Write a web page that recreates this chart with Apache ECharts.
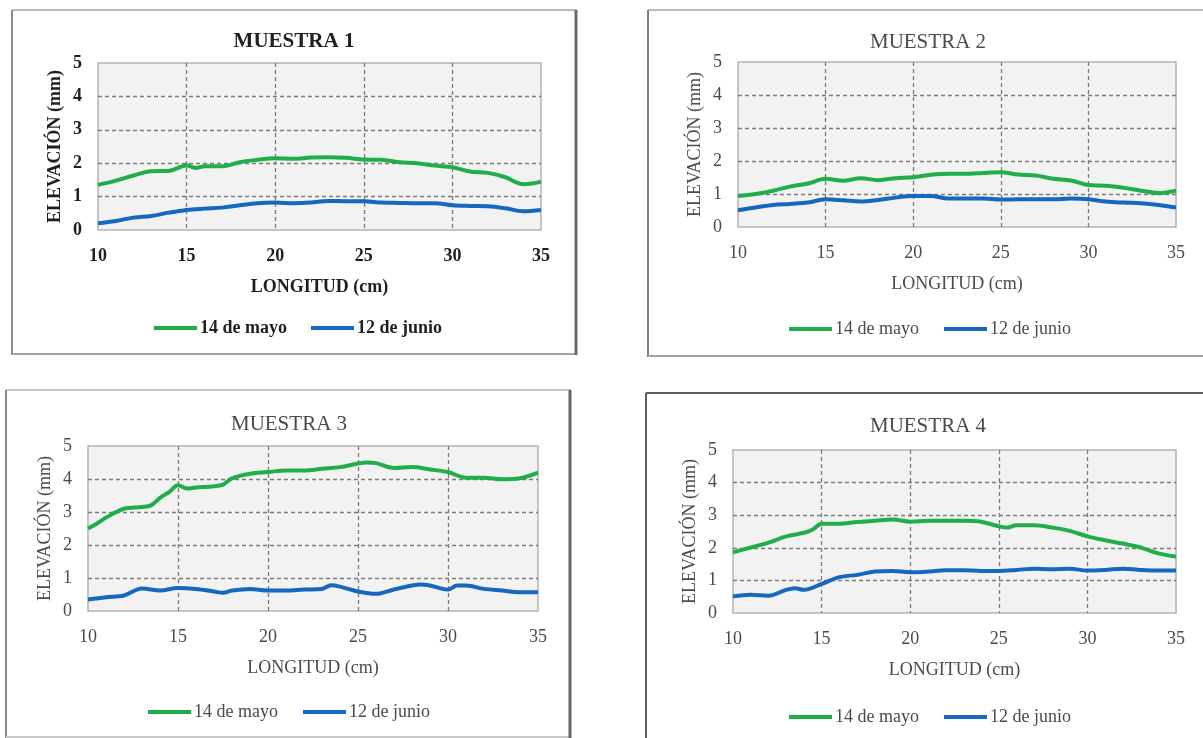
<!DOCTYPE html>
<html>
<head>
<meta charset="utf-8">
<title>Elevación por muestra</title>
<script src="https://cdn.jsdelivr.net/npm/echarts@6/dist/echarts.min.js"></script>
<style>
  html, body { margin: 0; padding: 0; background: #ffffff; }
  #chart { width: 1203px; height: 738px; }
</style>
</head>
<body>
<div id="chart"></div>
<script>
// Series names and axis labels
const seriesNames = ['14 de mayo', '12 de junio'];
const panelTitles = ['MUESTRA 1', 'MUESTRA 2', 'MUESTRA 3', 'MUESTRA 4'];
const xAxisName = 'LONGITUD (cm)';
const yAxisName = 'ELEVACIÓN (mm)';

// Muestra 1
const m1MayoX = [10, 11, 12, 13, 14, 15, 15.5, 16, 17, 18, 19, 20, 21, 22, 23, 24, 25, 26, 27, 28, 29, 30, 31, 32, 33, 33.5, 34, 34.5, 35];
const m1MayoY = [1.35, 1.48, 1.63, 1.76, 1.77, 1.93, 1.86, 1.91, 1.91, 2.03, 2.1, 2.15, 2.13, 2.17, 2.18, 2.16, 2.11, 2.1, 2.03, 2.0, 1.93, 1.88, 1.75, 1.71, 1.58, 1.45, 1.37, 1.39, 1.45];
const m1JunioX = [10, 11, 12, 13, 14, 15, 16, 17, 18, 19, 20, 21, 22, 23, 24, 25, 26, 27, 28, 29, 30, 31, 32, 33, 34, 35];
const m1JunioY = [0.2, 0.27, 0.37, 0.42, 0.52, 0.6, 0.64, 0.67, 0.74, 0.8, 0.82, 0.8, 0.82, 0.87, 0.86, 0.86, 0.82, 0.81, 0.8, 0.8, 0.74, 0.72, 0.71, 0.65, 0.56, 0.6];

// Muestra 2
const m2MayoX = [10, 11, 12, 13, 14, 15, 16, 17, 18, 19, 20, 21, 22, 23, 24, 25, 26, 27, 28, 29, 30, 31, 32, 33, 34, 35];
const m2MayoY = [0.94, 1.0, 1.1, 1.23, 1.32, 1.46, 1.4, 1.48, 1.42, 1.48, 1.51, 1.58, 1.61, 1.61, 1.64, 1.66, 1.59, 1.56, 1.46, 1.41, 1.27, 1.25, 1.19, 1.1, 1.03, 1.1];
const m2JunioX = [10, 11, 12, 13, 14, 15, 16, 17, 18, 19, 20, 21, 22, 23, 24, 25, 26, 27, 28, 29, 30, 31, 32, 33, 34, 35];
const m2JunioY = [0.51, 0.59, 0.67, 0.7, 0.74, 0.84, 0.81, 0.77, 0.82, 0.89, 0.94, 0.94, 0.86, 0.86, 0.86, 0.83, 0.84, 0.84, 0.84, 0.86, 0.84, 0.77, 0.74, 0.72, 0.67, 0.59];

// Muestra 3
const m3MayoX = [10, 10.5, 11, 12, 13, 13.5, 14, 14.5, 15, 15.5, 16, 17, 17.5, 18, 19, 20, 21, 22, 23, 24, 25, 25.5, 26, 27, 28, 29, 30, 31, 32, 33, 34, 35];
const m3MayoY = [2.5, 2.65, 2.83, 3.1, 3.15, 3.2, 3.43, 3.6, 3.81, 3.71, 3.74, 3.78, 3.83, 4.02, 4.16, 4.21, 4.26, 4.26, 4.31, 4.36, 4.47, 4.5, 4.48, 4.33, 4.36, 4.29, 4.21, 4.04, 4.04, 3.99, 4.02, 4.19];
const m3JunioX = [10, 11, 12, 13, 14, 15, 16, 17, 17.5, 18, 19, 20, 21, 22, 23, 23.5, 24, 25, 26, 27, 28, 28.5, 29, 30, 30.5, 31, 32, 33, 34, 35];
const m3JunioY = [0.35, 0.42, 0.47, 0.68, 0.62, 0.7, 0.67, 0.59, 0.55, 0.62, 0.67, 0.62, 0.62, 0.65, 0.67, 0.78, 0.74, 0.59, 0.52, 0.65, 0.77, 0.8, 0.77, 0.65, 0.77, 0.77, 0.67, 0.62, 0.57, 0.57];

// Muestra 4
const m4MayoX = [10, 11, 12, 13, 14, 14.5, 15, 16, 17, 18, 19, 20, 21, 22, 23, 24, 25, 25.5, 26, 27, 28, 29, 30, 31, 32, 33, 34, 35];
const m4MayoY = [1.86, 2.01, 2.16, 2.35, 2.46, 2.56, 2.74, 2.74, 2.79, 2.83, 2.87, 2.8, 2.83, 2.83, 2.83, 2.8, 2.66, 2.62, 2.69, 2.69, 2.62, 2.52, 2.35, 2.23, 2.13, 2.01, 1.83, 1.73];
const m4JunioX = [10, 11, 12, 13, 13.5, 14, 15, 16, 17, 18, 19, 20, 21, 22, 23, 24, 25, 26, 27, 28, 29, 30, 31, 32, 33, 34, 35];
const m4JunioY = [0.51, 0.56, 0.53, 0.71, 0.76, 0.71, 0.89, 1.1, 1.17, 1.27, 1.29, 1.25, 1.27, 1.31, 1.31, 1.29, 1.29, 1.32, 1.36, 1.34, 1.36, 1.3, 1.32, 1.36, 1.32, 1.3, 1.3];

const panelData = [
  [[m1MayoX, m1MayoY], [m1JunioX, m1JunioY]],
  [[m2MayoX, m2MayoY], [m2JunioX, m2JunioY]],
  [[m3MayoX, m3MayoY], [m3JunioX, m3JunioY]],
  [[m4MayoX, m4MayoY], [m4JunioX, m4JunioY]]
];

const COLORS = ['#22ad4b', '#1567c0'];
const FONT = 'Liberation Serif';

// Layout of each panel: frame, plot rectangle, title and legend placement
const panels = [
  { bold: true,  text: '#1f1f1f', grid: { left: 98, top: 63, width: 443, height: 167 },
    title: [294, 42], legend: [149, 314], itemGap: 24 },
  { bold: false, text: '#4a4a4a', grid: { left: 738, top: 62, width: 438, height: 165 },
    title: [928, 42], legend: [784, 315], itemGap: 25 },
  { bold: false, text: '#4a4a4a', grid: { left: 88, top: 446, width: 450, height: 165 },
    title: [289, 424], legend: [143, 698], itemGap: 25 },
  { bold: false, text: '#4a4a4a', grid: { left: 733, top: 450, width: 443, height: 163 },
    title: [928, 426], legend: [784, 703], itemGap: 25 }
];

function zip(xs, ys) {
  return xs.map((x, i) => [x, ys[i]]);
}

const grids = [], xAxes = [], yAxes = [], legends = [], series = [], graphics = [];

panels.forEach((p, i) => {
  const weight = p.bold ? 'bold' : 'normal';
  grids.push(Object.assign({
    show: true,
    backgroundColor: '#f2f2f2',
    borderColor: '#b4b4b4',
    borderWidth: 1.5,
    z: 0
  }, p.grid));

  xAxes.push({
    gridIndex: i,
    type: 'value',
    min: 10, max: 35, interval: 5,
    name: xAxisName,
    nameLocation: 'middle',
    nameGap: 48,
    nameTextStyle: { fontFamily: FONT, fontSize: 18, fontWeight: weight, color: p.text },
    axisLine: { show: false },
    axisTick: { show: false },
    axisLabel: { margin: 17, fontFamily: FONT, fontSize: 18, fontWeight: weight, color: p.text },
    splitLine: {
      show: true, showMinLine: false, showMaxLine: false,
      lineStyle: { color: '#7b7b7b', width: 1.3, type: [4, 3] }
    }
  });

  yAxes.push({
    gridIndex: i,
    type: 'value',
    min: 0, max: 5, interval: 1,
    name: yAxisName,
    nameLocation: 'middle',
    nameGap: 34,
    nameTextStyle: { fontFamily: FONT, fontSize: 18, fontWeight: weight, color: p.text },
    axisLine: { show: false },
    axisTick: { show: false },
    axisLabel: { margin: 16, fontFamily: FONT, fontSize: 18, fontWeight: weight, color: p.text },
    splitLine: {
      show: true, showMinLine: false, showMaxLine: false,
      lineStyle: { color: '#7b7b7b', width: 1.3, type: [4, 3] }
    }
  });

  legends.push({
    data: seriesNames,
    left: p.legend[0], top: p.legend[1],
    icon: 'rect',
    itemWidth: 43, itemHeight: 4,
    itemGap: p.itemGap,
    selectedMode: false,
    textStyle: { fontFamily: FONT, fontSize: 18, fontWeight: weight, color: p.text, padding: [0, 0, 0, -2] }
  });

  panelData[i].forEach((pair, k) => {
    series.push({
      type: 'line',
      name: seriesNames[k],
      xAxisIndex: i, yAxisIndex: i,
      data: zip(pair[0], pair[1]),
      smooth: 0.35,
      symbol: 'none',
      color: COLORS[k],
      lineStyle: { width: 4, color: COLORS[k] },
      z: 3
    });
  });

  graphics.push({
    type: 'text',
    x: p.title[0], y: p.title[1],
    style: {
      text: panelTitles[i],
      fill: p.text,
      font: weight + ' 21px "' + FONT + '"',
      textAlign: 'center',
      textVerticalAlign: 'middle'
    },
    z: 10
  });
});

// Frames around each panel
function frameLine(x1, y1, x2, y2, color, w) {
  return { type: 'line', shape: { x1, y1, x2, y2 }, style: { stroke: color, lineWidth: w }, z: -1, silent: true };
}
graphics.push(
  // Muestra 1
  frameLine(12, 10, 577, 10, '#b9b9b9', 2),
  frameLine(12, 10, 12, 355, '#8c8c8c', 2),
  frameLine(12, 354, 577, 354, '#a3a3a3', 2),
  frameLine(576, 10, 576, 355, '#6b6b6b', 3),
  // Muestra 2
  frameLine(648, 10, 1203, 10, '#bdbdbd', 2),
  frameLine(648, 10, 648, 357, '#7e7e7e', 2),
  frameLine(648, 356, 1203, 356, '#a3a3a3', 2),
  // Muestra 3
  frameLine(6, 390, 571, 390, '#c4c4c4', 2),
  frameLine(6, 390, 6, 738, '#8c8c8c', 2),
  frameLine(6, 737, 571, 737, '#c8c8c8', 2),
  frameLine(570, 390, 570, 738, '#666666', 3),
  // Muestra 4
  frameLine(646, 393, 1203, 393, '#5e5e5e', 2),
  frameLine(646, 393, 646, 738, '#5e5e5e', 2)
);

const chart = echarts.init(document.getElementById('chart'), null, { renderer: 'canvas' });
chart.setOption({
  backgroundColor: '#ffffff',
  animation: false,
  textStyle: { fontFamily: FONT },
  grid: grids,
  xAxis: xAxes,
  yAxis: yAxes,
  legend: legends,
  series: series,
  graphic: graphics
});
</script>
</body>
</html>
